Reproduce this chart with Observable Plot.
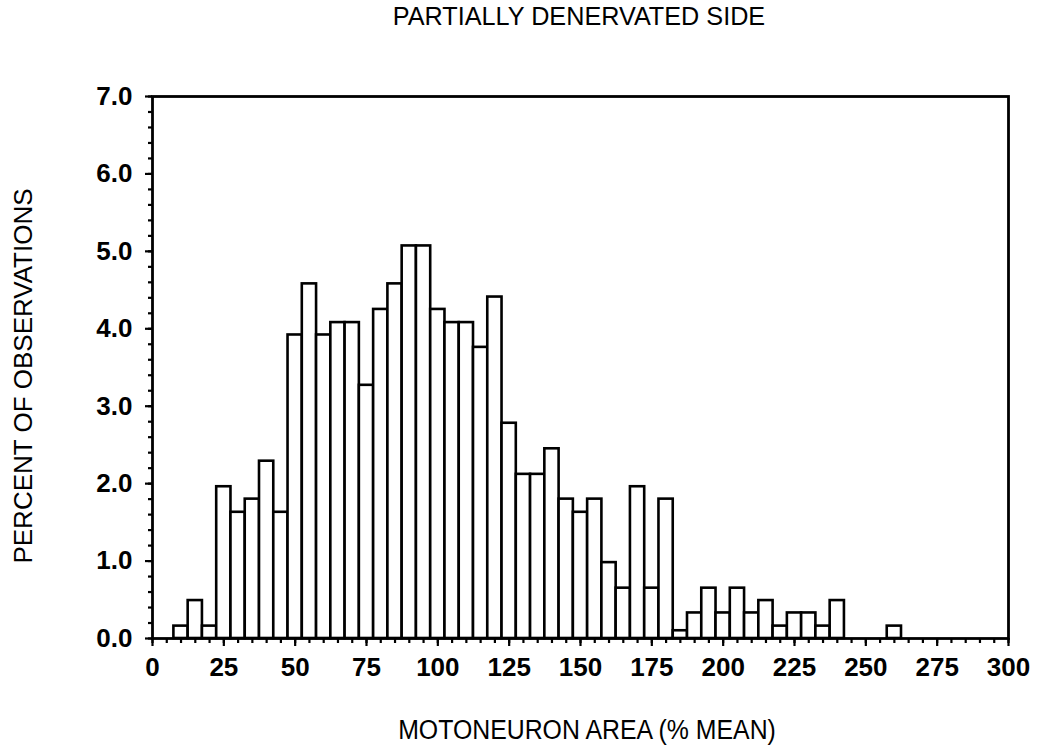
<!DOCTYPE html>
<html>
<head>
<meta charset="utf-8">
<script src="https://cdn.jsdelivr.net/npm/d3@7"></script>
<script src="https://cdn.jsdelivr.net/npm/@observablehq/plot@0.6"></script>
<style>
  html, body { margin: 0; padding: 0; background: #fff; }
  #wrap { position: relative; width: 1046px; height: 752px; overflow: hidden; font-family: "Liberation Sans", Arial, sans-serif; }
  .lbl { position: absolute; color: #000; white-space: nowrap; line-height: 1; }
</style>
</head>
<body>
<div id="wrap">
  <div id="chart"></div>
  <div class="lbl" id="title" style="left:579px; top:3px; font-size:26px; transform: translateX(-50%) scaleX(0.97);">PARTIALLY DENERVATED SIDE</div>
  <div class="lbl" id="xlab" style="left:587px; top:717px; font-size:27px; transform: translateX(-50%) scaleX(0.92);">MOTONEURON AREA (% MEAN)</div>
  <div class="lbl" id="ylab" style="left:23px; top:376px; font-size:26px; transform: translate(-50%,-50%) rotate(-90deg);">PERCENT OF OBSERVATIONS</div>
</div>
<script>
// Bin centers (motoneuron area, % mean) and percent of observations
const binCenters = [10, 15, 20, 25, 30, 35, 40, 45, 50, 55, 60, 65, 70, 75, 80, 85, 90, 95, 100, 105, 110, 115, 120, 125, 130, 135, 140, 145, 150, 155, 160, 165, 170, 175, 180, 185, 190, 195, 200, 205, 210, 215, 220, 225, 230, 235, 240, 260];
const percents   = [0.16, 0.49, 0.16, 1.96, 1.63, 1.80, 2.29, 1.63, 3.92, 4.58, 3.92, 4.08, 4.08, 3.27, 4.25, 4.58, 5.07, 5.07, 4.25, 4.08, 4.08, 3.76, 4.41, 2.78, 2.12, 2.12, 2.45, 1.80, 1.63, 1.80, 0.98, 0.65, 1.96, 0.65, 1.80, 0.10, 0.33, 0.65, 0.33, 0.65, 0.33, 0.49, 0.16, 0.33, 0.33, 0.16, 0.49, 0.16];
const binWidth = 5;
const xMajorTicks = d3.range(0, 301, 25);
const xMinorTicks = d3.range(0, 301, 5);
const yMajorTicks = d3.range(0, 7.01, 1);
const yMinorTicks = d3.range(0, 7.01, 0.2);

const data = binCenters.map((c, i) => ({x1: c - binWidth / 2, x2: c + binWidth / 2, y: percents[i]}));

const chart = Plot.plot({
  width: 1046,
  height: 752,
  marginLeft: 152,
  marginRight: 38,
  marginTop: 96,
  marginBottom: 114,
  style: {fontFamily: "Liberation Sans, Arial, sans-serif", background: "#fff", color: "#000"},
  x: {domain: [0, 300]},
  y: {domain: [0, 7]},
  marks: [
    Plot.rectY(data, {x1: "x1", x2: "x2", y: "y", fill: "white", stroke: "black", strokeWidth: 2.6}),
    Plot.frame({stroke: "black", strokeWidth: 2.8}),
    Plot.axisX({ticks: xMinorTicks, tickSize: 5, tickFormat: () => "", strokeWidth: 2.2, label: null}),
    Plot.axisX({ticks: xMajorTicks, tickSize: 8, tickPadding: 11, tickFormat: d3.format("d"), fontSize: 26, fontWeight: "bold", strokeWidth: 2.2, label: null}),
    Plot.axisY({ticks: yMinorTicks, tickSize: 4, tickFormat: () => "", strokeWidth: 2.2, label: null}),
    Plot.axisY({ticks: yMajorTicks, tickSize: 7, tickPadding: 13, tickFormat: d3.format(".1f"), fontSize: 26, fontWeight: "bold", strokeWidth: 2.2, label: null})
  ]
});
document.getElementById("chart").appendChild(chart);
</script>
</body>
</html>
